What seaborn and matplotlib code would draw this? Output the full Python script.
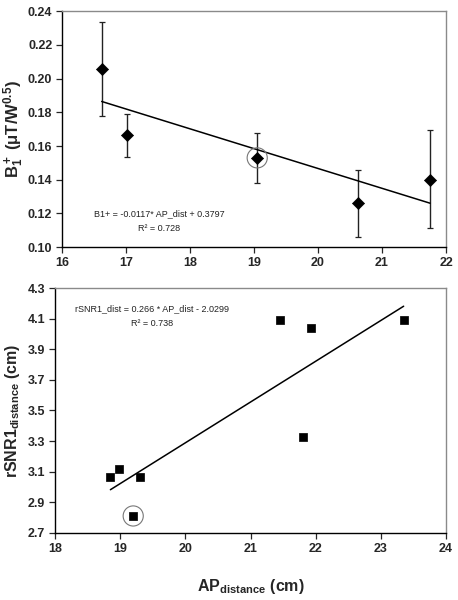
import numpy as np
import pandas as pd
import matplotlib
matplotlib.use('Agg')
import matplotlib.pyplot as plt
import seaborn as sns

# top panel: B1+ vs AP distance (mean with error bars)
ap_top = [16.62, 17.02, 19.05, 20.63, 21.75]
b1 = [0.206, 0.1665, 0.153, 0.126, 0.140]
b1_low = [0.178, 0.1535, 0.138, 0.106, 0.1115]
b1_high = [0.2335, 0.179, 0.1675, 0.146, 0.1695]
top_highlight_x = [19.05]
top_highlight_y = [0.153]
top_eq = "B1+ = -0.0117* AP_dist + 0.3797"
top_r2 = "R\u00b2 = 0.728"

# bottom panel: rSNR1 distance vs AP distance
ap_bot = [18.85, 18.98, 19.30, 19.20, 21.45, 21.80, 21.93, 23.35]
rsnr = [3.065, 3.115, 3.065, 2.81, 4.09, 3.325, 4.04, 4.09]
bot_highlight_x = [19.20]
bot_highlight_y = [2.81]
bot_eq = "rSNR1_dist = 0.266 * AP_dist - 2.0299"
bot_r2 = "R\u00b2 = 0.738"

top_xticks = [16, 17, 18, 19, 20, 21, 22]
top_yticks = [0.10, 0.12, 0.14, 0.16, 0.18, 0.20, 0.22, 0.24]
bot_xticks = [18, 19, 20, 21, 22, 23, 24]
bot_yticks = [2.7, 2.9, 3.1, 3.3, 3.5, 3.7, 3.9, 4.1, 4.3]

sns.set_style("ticks")
plt.rcParams['font.family'] = ['Liberation Sans', 'DejaVu Sans']
plt.rcParams['mathtext.fontset'] = 'custom'
plt.rcParams['mathtext.rm'] = 'Liberation Sans:bold'
plt.rcParams['mathtext.it'] = 'Liberation Sans:bold'
plt.rcParams['mathtext.bf'] = 'Liberation Sans:bold'
plt.rcParams['mathtext.default'] = 'rm'

top_df = pd.DataFrame({'ap': ap_top, 'b1': b1, 'lo': b1_low, 'hi': b1_high})
bot_df = pd.DataFrame({'ap': ap_bot, 'rsnr': rsnr})

fig = plt.figure(figsize=(4.58, 6.0), dpi=100)
ax1 = fig.add_axes([0.1354, 0.588, 0.8384, 0.3933])
ax2 = fig.add_axes([0.1201, 0.112, 0.8537, 0.408])


def style_axes(ax):
    for side in ['left', 'bottom']:
        ax.spines[side].set_color('black')
        ax.spines[side].set_linewidth(1.0)
    for side in ['top', 'right']:
        ax.spines[side].set_visible(True)
        ax.spines[side].set_color('#8a8a8a')
        ax.spines[side].set_linewidth(1.0)
    ax.tick_params(direction='out', length=4, width=0.9, labelsize=9, pad=3)
    for lab in ax.get_xticklabels() + ax.get_yticklabels():
        lab.set_fontweight('bold')


# --- top panel ---
yerr = [top_df['b1'] - top_df['lo'], top_df['hi'] - top_df['b1']]
ax1.errorbar(top_df['ap'], top_df['b1'], yerr=yerr, fmt='none', ecolor='#222222',
             elinewidth=1.0, capsize=2.2, capthick=0.9, zorder=2)
sns.regplot(data=top_df, x='ap', y='b1', ax=ax1, ci=None, scatter=False, truncate=True,
            line_kws={'color': 'black', 'lw': 1.1})
sns.scatterplot(data=top_df, x='ap', y='b1', ax=ax1, marker='D', s=38, color='black',
                edgecolor='black', zorder=4)
ax1.scatter(top_highlight_x, top_highlight_y, s=210, facecolors='none',
            edgecolors='#777777', linewidths=0.8, zorder=5)
ax1.set_xlim(16, 22)
ax1.set_ylim(0.10, 0.24)
ax1.set_xticks(top_xticks)
ax1.set_yticks(top_yticks)
ax1.set_yticklabels([f"{v:.2f}" for v in top_yticks])
ax1.set_xlabel('')
ax1.set_ylabel(r'B$_1^+$ ($\mu$T/W$^{0.5}$)', fontsize=12, fontweight='bold')
ax1.yaxis.set_label_coords(-0.094, 0.5)
ax1.text(0.254, 0.144, top_eq, transform=ax1.transAxes, ha='center', va='center',
         fontsize=6.5, color='#222222')
ax1.text(0.254, 0.080, top_r2, transform=ax1.transAxes, ha='center', va='center',
         fontsize=6.5, color='#222222')
style_axes(ax1)

# --- bottom panel ---
sns.regplot(data=bot_df, x='ap', y='rsnr', ax=ax2, ci=None, scatter=False, truncate=True,
            line_kws={'color': 'black', 'lw': 1.1})
sns.scatterplot(data=bot_df, x='ap', y='rsnr', ax=ax2, marker='s', s=40, color='black',
                edgecolor='black', zorder=4)
ax2.scatter(bot_highlight_x, bot_highlight_y, s=210, facecolors='none',
            edgecolors='#777777', linewidths=0.8, zorder=5)
ax2.set_xlim(18, 24)
ax2.set_ylim(2.7, 4.3)
ax2.set_xticks(bot_xticks)
ax2.set_yticks(bot_yticks)
ax2.set_yticklabels([f"{v:.1f}" for v in bot_yticks])
ax2.set_xlabel(r'AP$_{distance}$ (cm)', fontsize=11.5, fontweight='bold', labelpad=16)
ax2.set_ylabel(r'rSNR1$_{distance}$ (cm)', fontsize=11.5, fontweight='bold', labelpad=4)
ax2.text(0.249, 0.914, bot_eq, transform=ax2.transAxes, ha='center', va='center',
         fontsize=6.5, color='#222222')
ax2.text(0.249, 0.853, bot_r2, transform=ax2.transAxes, ha='center', va='center',
         fontsize=6.5, color='#222222')
style_axes(ax2)

fig.savefig('out.png', dpi=100)
